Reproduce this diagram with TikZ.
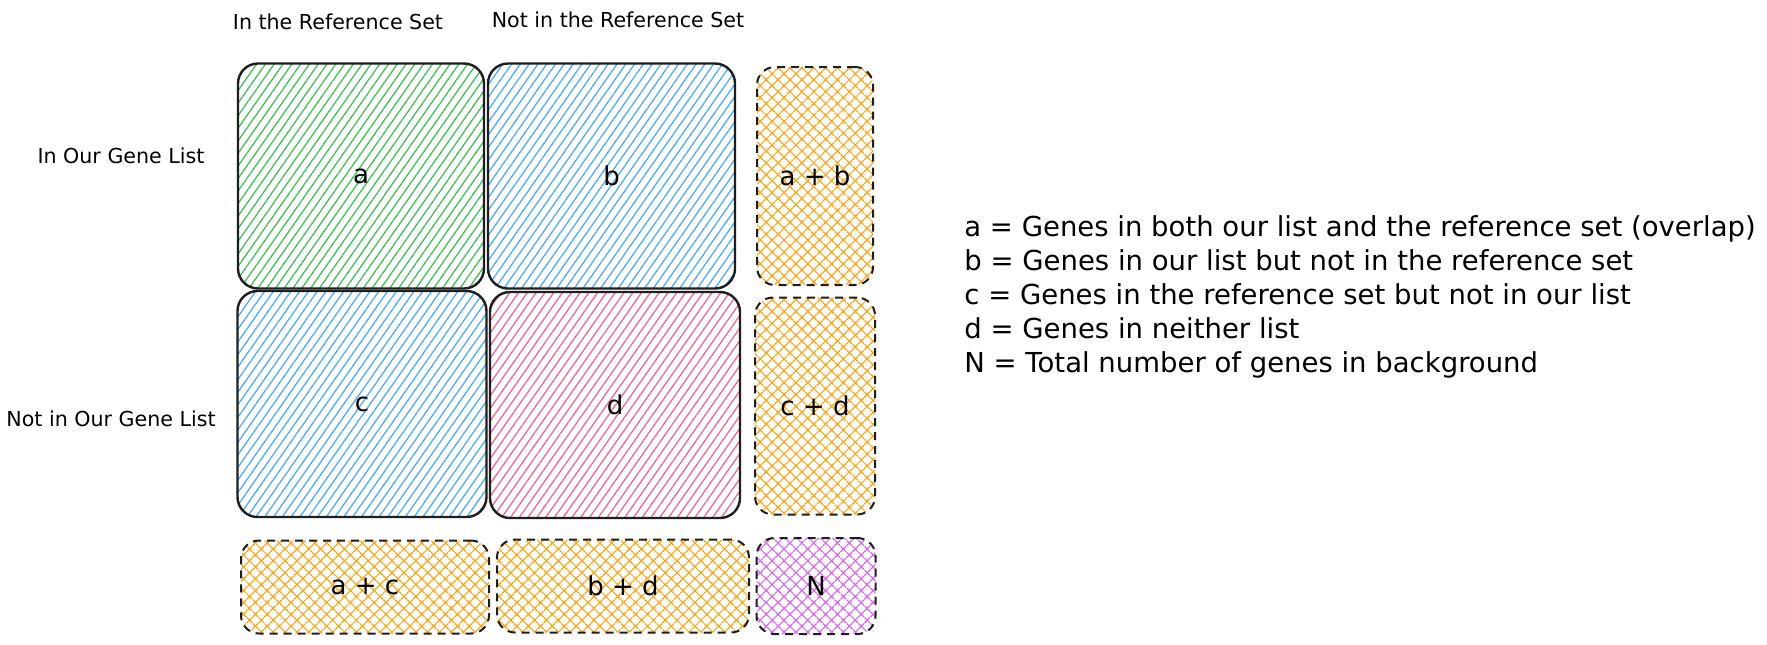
\documentclass[tikz,border=0pt]{standalone}
\usepackage{fontspec}
\setmainfont{DejaVu Sans}
\usepackage{xcolor}
\usetikzlibrary{patterns.meta}
\definecolor{hatchgreen}{HTML}{40C057}
\definecolor{hatchblue}{HTML}{4DABF7}
\definecolor{hatchpink}{HTML}{F06595}
\definecolor{hatchorange}{HTML}{FAA61A}
\definecolor{hatchviolet}{HTML}{D66BEE}
\definecolor{inkline}{HTML}{1E1E1E}

\begin{document}
\begin{tikzpicture}[x=0.5pt,y=-0.5pt,
  cellbox/.style={draw=inkline,line width=1.2pt,rounded corners=10pt,inner sep=0pt,
    pattern={Lines[angle=55,distance=3.6pt,line width=0.65pt]},pattern color=#1,
    font=\fontsize{13}{15}\selectfont},
  sumbox/.style={draw=inkline,line width=1pt,dash pattern=on 4pt off 3pt,rounded corners=9pt,inner sep=0pt,
    pattern={Hatch[angle=45,distance=4.2pt,line width=0.6pt]},pattern color=#1,
    font=\fontsize{13}{15}\selectfont},
  headlabel/.style={font=\fontsize{10.3}{12}\selectfont}]
  \useasboundingbox (0,0) rectangle (1767,644);
  % column and row headings
  \node[headlabel] (inref) at (338,22) {In the Reference Set};
  \node[headlabel] (notref) at (618,20) {Not in the Reference Set};
  \node[headlabel] (inlist) at (121,156) {In Our Gene List};
  \node[headlabel] (notlist) at (111,419) {Not in Our Gene List};
  % the four cells
  \node[cellbox=hatchgreen,minimum width=123pt,minimum height=112.5pt] (a) at (361,176) {a};
  \node[cellbox=hatchblue,minimum width=123.5pt,minimum height=112.5pt] (b) at (611.5,176) {b};
  \node[cellbox=hatchblue,minimum width=124.5pt,minimum height=113pt] (c) at (362,404) {c};
  \node[cellbox=hatchpink,minimum width=125pt,minimum height=113pt] (d) at (615,405) {d};
  % margins
  \node[sumbox=hatchorange,minimum width=58pt,minimum height=109pt] (ab) at (815,176) {a + b};
  \node[sumbox=hatchorange,minimum width=60pt,minimum height=108.5pt] (cd) at (815,406) {c + d};
  \node[sumbox=hatchorange,minimum width=124pt,minimum height=46.5pt] (ac) at (365,587) {a + c};
  \node[sumbox=hatchorange,minimum width=126pt,minimum height=46.5pt] (bd) at (623,586) {b + d};
  \node[sumbox=hatchviolet,minimum width=59.5pt,minimum height=48pt] (total) at (816,586) {N};
  % legend
  \node[anchor=west,align=left,inner sep=0pt,font=\fontsize{13.75}{17}\selectfont] (legend) at (964,297)
    {a = Genes in both our list and the reference set (overlap)\\
     b = Genes in our list but not in the reference set\\
     c = Genes in the reference set but not in our list\\
     d = Genes in neither list\\
     N = Total number of genes in background};
\end{tikzpicture}
\end{document}
